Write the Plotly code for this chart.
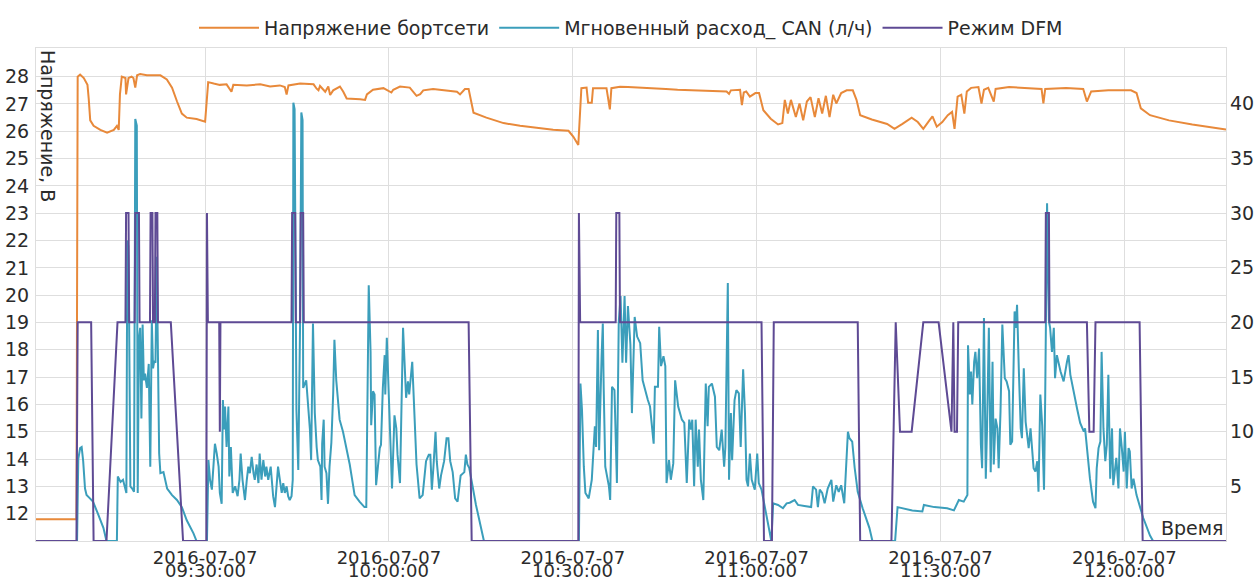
import pandas as pd
import plotly.graph_objects as go

BASE = pd.Timestamp("2016-07-07 09:00:00")

# ---- Напряжение бортсети (minutes after 09:00, volts) ----
volt_min = [2.4, 9.0, 9.2, 9.6, 10.2, 10.8, 11.0, 11.25, 11.8, 12.9, 14.0, 15.1, 15.6, 15.9, 16.1, 16.4, 17.0, 17.1,
            17.5, 18.0, 18.3, 18.6, 18.9, 19.4, 20.5, 22.7, 23.75, 24.6, 25.4, 26.2, 27.0, 28.6, 30.0, 30.3, 30.5,
            31.4, 32.4, 33.5, 34.3, 34.6, 36.8, 39.0, 40.6, 42.2, 43.0, 43.3, 43.6, 45.5, 47.7, 48.2, 48.5, 48.75,
            49.6, 50.1, 50.4, 50.9, 52.0, 52.55, 53.1, 55.3, 56.1, 56.4, 57.4, 59.1, 60.4, 60.7, 61.8, 63.4, 64.5,
            65.1, 65.6, 67.2, 69.4, 71.1, 71.6, 72.4, 73.0, 73.8, 75.9, 78.7, 81.4, 84.1, 86.8, 89.3, 90.1, 90.9,
            91.2, 91.4, 92.25, 92.5, 93.1, 93.3, 95.5, 96.05, 96.3, 97.7, 99.0, 102.7, 105.2, 107.1, 111.4, 115.1,
            115.5, 115.8, 117.3, 117.6, 117.9, 118.3, 118.9, 119.8, 120.4, 121.1, 122.3, 123.5, 124.2, 124.6,
            125.1, 125.6, 126.4, 127.0, 127.6, 128.2, 128.8, 129.5, 130.1, 130.7, 131.3, 131.9, 132.5, 133.0,
            133.8, 134.7, 135.7, 136.3, 136.9, 138.8, 141.3, 142.5, 143.8, 145.3, 146.3, 147.2, 148.2, 148.7,
            149.4, 150.3, 151.2, 151.9, 152.3, 152.8, 153.4, 153.9, 154.3, 155.0, 156.2, 156.7, 157.1, 157.8,
            158.7, 159.0, 161.2, 164.3, 166.5, 166.8, 167.1, 170.5, 173.3, 173.9, 174.6, 177.4, 181.1, 182.0,
            182.7, 184.2, 187.3, 191.1, 195.7, 196.6]
volt_val = [11.8, 11.8, 28.0, 28.08, 27.95, 27.7, 27.2, 26.4, 26.2, 26.05, 25.95, 26.05, 26.2, 26.05, 27.35, 28.0,
            27.95, 27.35, 27.95, 28.0, 27.95, 27.6, 28.05, 28.1, 28.05, 28.05, 27.9, 27.6, 27.1, 26.65, 26.5, 26.45,
            26.35, 27.35, 27.8, 27.75, 27.7, 27.72, 27.45, 27.7, 27.68, 27.72, 27.64, 27.68, 27.62, 27.35, 27.68,
            27.75, 27.72, 27.56, 27.5, 27.66, 27.45, 27.64, 27.33, 27.5, 27.64, 27.45, 27.2, 27.17, 27.15, 27.35,
            27.52, 27.58, 27.42, 27.52, 27.64, 27.6, 27.3, 27.36, 27.5, 27.55, 27.5, 27.45, 27.35, 27.55, 27.55,
            26.68, 26.5, 26.3, 26.2, 26.12, 26.06, 26.02, 25.8, 25.5, 27.1, 27.58, 27.6, 27.05, 27.05, 27.58, 27.58,
            26.8, 27.58, 27.63, 27.62, 27.59, 27.55, 27.52, 27.5, 27.46, 27.37, 27.5, 27.52, 26.96, 27.42, 27.46,
            27.27, 27.4, 27.4, 26.77, 26.46, 26.25, 26.3, 27.15, 26.65, 27.15, 26.52, 27.02, 26.4, 27.09, 27.25,
            26.52, 27.21, 26.65, 27.3, 26.52, 27.34, 27.02, 27.4, 27.5, 27.5, 27.15, 26.59, 26.43, 26.27, 26.09,
            26.27, 26.5, 26.34, 26.09, 26.4, 26.55, 26.17, 26.34, 26.59, 26.71, 26.09, 27.27, 27.34, 26.65, 27.46,
            27.59, 27.62, 27.02, 27.52, 27.59, 27.09, 27.55, 27.62, 27.59, 27.55, 27.02, 27.55, 27.59, 27.55,
            27.09, 27.46, 27.5, 27.5, 27.4, 26.84, 26.59, 26.4, 26.25, 26.09, 26.07]

# ---- Мгновенный расход CAN (л/ч) ----
flow_min = [2.4, 9.1, 9.3, 9.6, 9.85, 10.1, 10.4, 10.65, 11.2, 11.7, 12.5, 13.4, 13.9, 15.6, 15.75, 16.2, 16.6, 16.9,
            17.15, 17.3, 17.45, 17.6, 17.8, 18.1, 18.4, 18.6, 18.85, 19.0, 19.2, 19.4, 19.6, 19.8, 20.0, 20.2, 20.5,
            20.8, 21.05, 21.3, 21.5, 21.7, 21.9, 22.1, 22.3, 22.5, 22.7, 23.2, 23.8, 24.6, 25.4, 26.2, 27.0, 28.1,
            28.6, 30.3, 30.54, 30.8, 31.1, 31.35, 31.6, 31.9, 32.2, 32.4, 32.7, 32.9, 33.1, 33.25, 33.5, 33.8, 33.95,
            34.2, 34.5, 34.9, 35.3, 35.6, 35.8, 36.1, 36.5, 36.8, 37.05, 37.3, 37.6, 37.9, 38.1, 38.4, 38.7, 38.9,
            39.2, 39.5, 39.8, 40.0, 40.3, 40.7, 41.1, 41.4, 41.65, 41.9, 42.2, 42.5, 42.75, 43.0, 43.3, 43.55, 43.8,
            44.1, 44.3, 44.4, 44.6, 44.9, 45.2, 45.5, 45.7, 45.9, 46.0, 46.5, 47.1, 47.3, 47.6, 47.9, 48.2, 48.4,
            48.8, 49.0, 49.1, 49.35, 49.5, 49.8, 50.05, 50.3, 50.6, 50.9, 51.1, 51.4, 51.95, 52.5, 53.6, 54.4, 55.2,
            56.0, 56.3, 56.6, 56.7, 57.0, 57.1, 57.4, 57.65, 57.9, 58.2, 58.5, 58.7, 59.0, 59.3, 59.4, 59.65, 60.0,
            60.2, 60.5, 60.9, 61.2, 61.4, 61.8, 62.3, 62.5, 62.8, 63.1, 63.3, 63.8, 64.2, 64.5, 65.0, 65.5, 66.05,
            66.5, 66.75, 67.0, 67.25, 67.6, 67.8, 68.2, 68.5, 69.0, 69.4, 69.7, 70.0, 70.4, 70.8, 71.2, 71.7, 72.3,
            72.55, 72.8, 73.1, 74.2, 75.5, 91.0, 91.25, 91.5, 91.8, 92.06, 92.6, 93.1, 93.6, 93.8, 94.1, 94.3, 94.7,
            94.9, 95.04, 95.3, 95.9, 96.1, 96.4, 96.8, 97.2, 97.5, 97.8, 98.1, 98.45, 98.7, 99.0, 99.4, 99.65, 100.1,
            100.5, 101.0, 101.4, 101.8, 102.25, 102.6, 102.9, 103.2, 103.4, 103.9, 104.1, 104.4, 104.8, 105.1,
            105.3, 105.7, 106.0, 106.4, 106.7, 107.0, 107.2, 107.8, 108.2, 108.6, 109.0, 109.3, 109.5, 109.8,
            110.05, 110.4, 110.6, 110.9, 111.3, 111.7, 112.0, 112.2, 112.7, 113.2, 113.5, 113.9, 114.3, 114.7,
            114.9, 115.3, 115.5, 115.8, 116.0, 116.4, 116.7, 117.1, 117.4, 117.8, 118.1, 118.35, 118.6, 118.9,
            119.2, 119.7, 120.1, 120.35, 120.8, 122.4, 122.7, 123.5, 124.3, 124.9, 125.4, 126.2, 126.75, 127.8,
            128.9, 129.2, 129.7, 130.0, 130.3, 130.7, 131.1, 131.6, 132.2, 132.5, 133.0, 133.4, 133.8, 134.3,
            134.6, 134.9, 135.15, 135.6, 136.0, 136.5, 137.3, 138.4, 138.9, 142.6, 143.0, 144.4, 145.4, 147.05,
            147.3, 149.0, 151.1, 152.2, 153.0, 153.8, 154.4, 154.5, 154.8, 155.0, 155.2, 155.5, 155.7, 156.0,
            156.3, 156.6, 156.8, 157.1, 157.4, 157.6, 157.9, 158.2, 158.5, 158.7, 159.0, 159.3, 159.5, 159.8,
            160.1, 160.5, 160.8, 161.2, 161.4, 161.7, 162.0, 162.1, 162.3, 162.5, 162.8, 163.1, 163.3, 163.6,
            163.9, 164.15, 164.4, 164.7, 165.0, 165.2, 165.5, 165.8, 166.0, 166.3, 166.6, 166.9, 167.1, 167.4,
            167.7, 167.9, 168.2, 168.5, 168.7, 169.0, 169.6, 170.1, 170.65, 170.9, 171.2, 171.7, 172.3, 172.8,
            173.4, 173.6, 174.0, 174.4, 174.9, 175.3, 175.5, 175.8, 176.1, 176.3, 176.6, 176.9, 177.15, 177.4,
            177.7, 178.0, 178.2, 178.7, 179.05, 179.3, 179.6, 179.9, 180.1, 180.4, 180.7, 180.9, 181.2, 181.5,
            182.0, 182.6, 183.1, 184.2, 184.7, 196.6]
flow_val = [0, 0, 7.5, 8.5, 8.6, 7.3, 4.8, 4.2, 3.9, 3.6, 2.5, 1.2, 0, 0, 5.9, 5.4, 5.6, 4.8,
            4.4, 27.5, 27.0, 20.0, 5.0, 4.8, 4.5, 38.6, 38.0, 4.4, 18.5, 19.5, 11.2, 19.8, 14.7, 15.3, 14.0,
            16.2, 6.8, 20.2, 15.8, 16.5, 16.3, 26.0, 15.0, 8.0, 6.2, 6.3, 4.8, 4.2, 3.75, 3.1, 1.9, 0.7,
            0, 0, 7.4, 5.6, 4.7, 6.8, 8.9, 8.0, 6.8, 4.4, 3.4, 12.9, 10.2, 12.3, 8.6, 12.3, 5.9,
            8.6, 4.4, 5.0, 4.1, 5.6, 8.0, 5.6, 3.75, 5.6, 6.8, 6.2, 7.7, 6.2, 5.6, 7.0, 5.3, 8.0,
            5.6, 7.4, 5.9, 6.8, 5.6, 6.8, 4.1, 3.1, 5.0, 6.8, 5.6, 4.4, 5.3, 4.4, 5.0, 4.1, 3.75,
            4.1, 5.6, 40.1, 39.5, 12.0, 6.5, 20.0, 39.2, 38.5, 14.0, 14.7, 10.2, 7.4, 19.9, 11.7, 8.6, 7.4,
            6.8, 3.75, 8.9, 11.1, 6.8, 6.2, 3.4, 6.8, 9.0, 13.5, 18.4, 14.7, 11.1, 10.0, 7.0, 4.2, 3.6,
            3.1, 3.1, 22.5, 23.4, 17.3, 10.6, 13.7, 13.4, 5.1, 6.7, 8.5, 8.8, 14.0, 17.0, 13.4, 18.6, 12.5,
            8.5, 4.8, 11.5, 10.3, 7.9, 5.3, 19.5, 16.4, 13.1, 14.6, 13.4, 16.4, 11.5, 7.0, 3.9, 4.2, 7.3,
            7.9, 7.9, 4.7, 6.7, 10.0, 7.3, 4.8, 6.0, 7.3, 9.4, 9.4, 7.3, 6.3, 3.9, 3.6, 6.0, 6.3,
            7.9, 7.0, 6.7, 3.3, 0, 0, 14.4, 12.0, 6.8, 4.4, 3.9, 5.6, 10.5, 8.6, 19.3, 8.3, 16.9,
            19.9, 14.1, 6.8, 5.0, 3.75, 14.1, 13.8, 5.3, 20.0, 22.4, 16.3, 22.4, 16.3, 21.5, 18.0, 11.7, 20.5,
            18.7, 18.1, 14.7, 13.8, 12.9, 12.3, 10.5, 8.9, 14.1, 14.1, 19.6, 16.0, 16.9, 16.0,
            5.3, 7.4, 5.6, 7.1, 14.7, 13.2, 12.3, 11.1, 10.8, 5.3, 11.1, 10.2, 11.1, 5.0,
            11.1, 6.8, 10.2, 5.6, 3.75, 14.4, 10.5, 14.1, 14.4, 13.2, 8.6, 8.3, 10.2, 6.8,
            8.6, 23.6, 5.6, 11.7, 7.4, 12.9, 13.8, 13.5, 8.6, 15.7, 11.7, 5.6, 5.0, 8.0,
            5.6, 4.7, 8.0, 5.3, 4.7, 0, 3.45, 3.3, 3.0, 3.45, 3.5, 3.75, 3.3, 3.2,
            3.1, 5.0, 4.7, 3.1, 4.7, 4.4, 3.45, 4.8, 5.6, 3.6, 5.1, 4.5, 5.1, 3.45,
            7.3, 10.0, 9.4, 9.1, 6.7, 4.5, 3.0, 1.2, 0, 0, 3.1, 2.9, 2.8, 2.7,
            3.3, 3.1, 3.0, 2.8, 3.75, 3.6, 4.2, 17.9, 13.4, 15.5, 12.5, 16.4, 17.3, 14.9,
            17.6, 8.8, 6.65, 20.4, 5.7, 10.3, 19.5, 6.3, 16.4, 7.0, 11.2, 10.3, 6.65, 11.8,
            19.8, 14.9, 14.6, 13.7, 8.8, 9.1, 16.4, 21.0, 19.5, 21.6, 15.5, 10.3, 9.4, 15.8,
            10.9, 9.8, 8.5, 10.3, 7.9, 6.65, 6.35, 7.3, 4.5, 13.4, 10.6, 4.7, 13.4, 30.9,
            20.1, 19.5, 17.3, 19.5, 14.9, 17.0, 15.5, 14.6, 16.4, 17.0, 15.2, 13.7, 12.1, 10.8,
            10.0, 10.3, 7.9, 5.7, 3.6, 3.0, 6.65, 8.5, 9.1, 17.3, 10.3, 7.3, 8.8, 15.2,
            5.7, 10.3, 5.1, 7.6, 4.8, 10.3, 8.5, 6.35, 10.0, 4.8, 8.5, 8.2, 4.8, 5.7,
            4.2, 3.0, 2.1, 0.5, 0, 0]

# ---- Режим DFM ----
dfm_min = [2.4, 9.0, 9.2, 11.4, 11.8, 13.9, 15.7, 17.0, 17.1, 17.5, 17.6, 18.5, 18.6, 19.2, 19.3, 21.0, 21.1, 21.4,
           21.5, 21.8, 21.9, 22.2, 22.3, 24.4, 26.4, 30.2, 30.3, 30.45, 32.3, 32.4, 32.5, 44.1, 44.2, 44.7, 44.8,
           45.5, 45.6, 46.0, 46.1, 73.0, 73.5, 90.9, 91.0, 91.2, 97.0, 97.1, 97.6, 97.7, 120.8, 121.2, 122.5,
           122.8, 136.5, 136.9, 142.0, 142.7, 143.4, 145.3, 147.2, 149.7, 151.8, 152.1, 152.3, 152.7, 152.9,
           167.1, 167.2, 167.7, 167.8, 173.9, 174.3, 175.0, 175.3, 182.5, 183.0, 196.6]
dfm_val = [0, 0, 20, 20, 0, 0, 20, 20, 30, 30, 20, 20, 30, 30, 20, 20, 30, 30,
           20, 20, 30, 30, 20, 20, 0, 0, 30, 20, 20, 10, 20, 20, 30, 30, 20,
           20, 30, 30, 20, 20, 0, 0, 30, 20, 20, 30, 30, 20, 20, 0, 0,
           20, 20, 0, 0, 20, 10, 10, 20, 20, 10, 20, 10, 10, 20,
           20, 30, 30, 20, 20, 10, 10, 20, 20, 0, 0]

x_tick_date = "2016-07-07"
x_tick_times = ["09:30:00", "10:00:00", "10:30:00", "11:00:00", "11:30:00", "12:00:00"]
left_ticks = list(range(12, 29))
right_ticks = [5, 10, 15, 20, 25, 30, 35, 40]


def to_time(mins):
    return BASE + pd.to_timedelta(mins, unit="min")


FONT = "DejaVu Sans"
TXT = "#2b2b2b"
GRID = "#dedede"
FS = 19
XFS = 18
PLOT_H = 583 - 48 - 42

fig = go.Figure()
fig.add_trace(go.Scatter(x=to_time(volt_min), y=volt_val, mode="lines", name="Напряжение бортсети",
                         line=dict(color="#E8893A", width=2), yaxis="y"))
fig.add_trace(go.Scatter(x=to_time(flow_min), y=flow_val, mode="lines", name="Мгновенный расход_ CAN (л/ч)",
                         line=dict(color="#3B9EBB", width=2), yaxis="y2"))
fig.add_trace(go.Scatter(x=to_time(dfm_min), y=dfm_val, mode="lines", name="Режим DFM",
                         line=dict(color="#5E4A94", width=2), yaxis="y2"))

tickvals = [pd.Timestamp(x_tick_date + " " + t) for t in x_tick_times]
ticktext = [x_tick_date for _ in x_tick_times]

annotations = [
    dict(text="Напряжение, В", textangle=90, xref="paper", yref="paper", x=0.0, y=1.0, xshift=-1,
         xanchor="left", yanchor="top", showarrow=False, font=dict(family=FONT, size=FS, color=TXT)),
    dict(text="Время", xref="paper", yref="paper", x=1.0, y=0.0, xanchor="right", yanchor="bottom",
         showarrow=False, font=dict(family=FONT, size=FS, color=TXT)),
]
for tv, t in zip(tickvals, x_tick_times):
    annotations.append(dict(text=t, xref="x", yref="paper", x=tv, y=-29 / PLOT_H, xanchor="center",
                            yanchor="middle", showarrow=False, font=dict(family=FONT, size=XFS, color=TXT)))

fig.update_layout(
    width=1258, height=583,
    margin=dict(l=36, r=32, t=48, b=42, autoexpand=False),
    paper_bgcolor="white", plot_bgcolor="white",
    font=dict(family=FONT, size=FS, color=TXT),
    showlegend=True,
    legend=dict(orientation="h", x=0.5, xanchor="center", y=1 + 20 / PLOT_H, yanchor="middle",
                font=dict(family=FONT, size=FS, color=TXT), itemwidth=60,
                bgcolor="rgba(0,0,0,0)"),
    xaxis=dict(type="date", range=[to_time(2.4), to_time(196.6)], tickvals=tickvals, ticktext=ticktext,
               showgrid=True, gridcolor=GRID, gridwidth=1, showline=True, linecolor=GRID, mirror=True,
               ticks="", tickfont=dict(size=XFS, color=TXT), zeroline=False, automargin=False),
    yaxis=dict(range=[11, 29.05], tickvals=left_ticks, showgrid=True, gridcolor=GRID, gridwidth=1,
               showline=True, linecolor=GRID, mirror=True, ticks="", zeroline=False, automargin=False,
               tickfont=dict(size=FS, color=TXT), ticklabelstandoff=2),
    yaxis2=dict(range=[0, 45.1], tickvals=right_ticks, overlaying="y", side="right", showgrid=False,
                zeroline=False, ticks="", tickfont=dict(size=FS, color=TXT), showline=False,
                automargin=False, ticklabelstandoff=3),
    annotations=annotations,
)

fig.write_html("out.html", config={"displayModeBar": False},
               post_script="document.body.style.margin='0';document.body.style.padding='0';")
